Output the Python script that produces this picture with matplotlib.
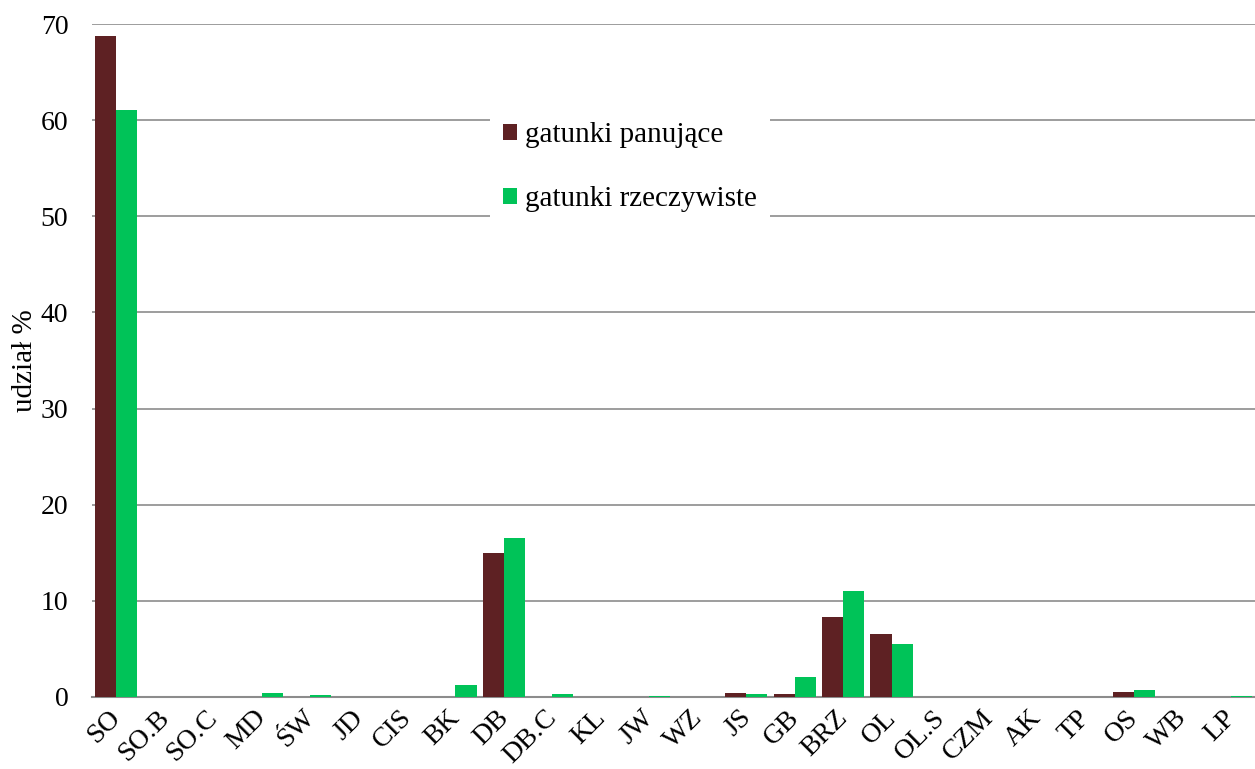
import numpy as np
from matplotlib import pyplot as plt
from matplotlib import transforms

# gatunki drzew
gatunki = ['SO', 'SO.B', 'SO.C', 'MD', 'ŚW', 'JD', 'CIS', 'BK', 'DB', 'DB.C', 'KL', 'JW', 'WZ',
           'JS', 'GB', 'BRZ', 'OL', 'OL.S', 'CZM', 'AK', 'TP', 'OS', 'WB', 'LP']
# udział gatunków panujących i rzeczywistych (%)
panujace = [68.7, 0, 0, 0, 0, 0, 0, 0.05, 15.0, 0, 0.05, 0, 0,
            0.4, 0.3, 8.3, 6.6, 0, 0, 0.05, 0, 0.55, 0, 0]
rzeczywiste = [61.1, 0, 0, 0.4, 0.2, 0, 0, 1.2, 16.5, 0.3, 0.05, 0.1, 0,
               0.3, 2.1, 11.0, 5.5, 0, 0, 0.05, 0, 0.7, 0, 0.1]

plt.rcParams['font.family'] = ['Liberation Serif', 'DejaVu Serif']

fig = plt.figure(figsize=(12.55, 7.69), dpi=100)
ax = fig.add_axes([92 / 1255, 1 - 697 / 769, 1 - 92 / 1255, (697 - 24) / 769])

x = np.arange(len(gatunki))
w = 0.435
ax.bar(x - w / 2, panujace, w, color='#5E2123', label='gatunki panujące', zorder=3)
ax.bar(x + w / 2, rzeczywiste, w, color='#00C358', label='gatunki rzeczywiste', zorder=3)

ax.set_xlim(-0.5, len(gatunki) - 0.5)
ax.set_ylim(0, 70)
ax.set_yticks(range(0, 71, 10))
ax.yaxis.grid(True, color='#8C8C8C', linewidth=1.2, zorder=0)
ax.set_axisbelow(True)
for s in ['top', 'right', 'left']:
    ax.spines[s].set_visible(False)
ax.spines['bottom'].set_color('#8C8C8C')
ax.spines['bottom'].set_linewidth(1.5)
ax.tick_params(length=0, labelsize=20)
ax.tick_params(axis='y', pad=17)
ax.tick_params(axis='x', pad=6)
ax.set_xticks(x)
ax.set_xticklabels(gatunki, rotation=45, ha='right', rotation_mode='anchor')
przesun = transforms.ScaledTranslation(-8 / 100, 0, fig.dpi_scale_trans)
for lab in ax.get_xticklabels():
    lab.set_transform(lab.get_transform() + przesun)
ax.set_ylabel('udział %', fontsize=21, labelpad=2)

leg = ax.legend(loc='upper left', bbox_to_anchor=(383 / 1163, 0.895), frameon=True,
                fontsize=21, handlelength=0.5, handleheight=0.5, handletextpad=0.25,
                labelspacing=1.3, borderpad=0.45, fancybox=False)
leg.get_frame().set_edgecolor('none')
leg.get_frame().set_facecolor('white')
leg.get_frame().set_alpha(1)

fig.savefig('out.png', dpi=100)
